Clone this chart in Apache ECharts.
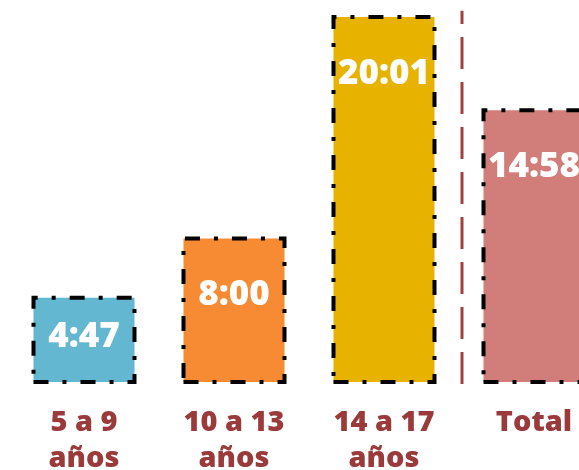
<!DOCTYPE html>
<html>
<head>
<meta charset="utf-8">
<script src="https://cdn.jsdelivr.net/npm/echarts@6/dist/echarts.min.js"></script>
<style>html,body{margin:0;padding:0;background:#fff;}#c{width:579px;height:470px;}</style>
</head>
<body>
<div id="c"></div>
<script>
var categories = ['5 a 9\naños', '10 a 13\naños', '14 a 17\naños', 'Total'];
var minutes = [287, 480, 1201, 898];
var colors = ['#63b7d1', '#f68b33', '#e8b200', '#d17d7a'];
var dividerX = [2.52, 2.52];
var dividerY = [0, 1215];

function fmt(m) {
  var h = Math.floor(m / 60), mm = m % 60;
  return h + ':' + (mm < 10 ? '0' : '') + mm;
}

var chart = echarts.init(document.getElementById('c'));
chart.setOption({
  animation: false,
  grid: { left: 9, right: -30, top: 0, bottom: 86, outerBoundsMode: 'none', containLabel: false },
  xAxis: [{
    type: 'category',
    data: categories,
    axisLine: { show: false },
    axisTick: { show: false },
    axisLabel: {
      color: '#9b3a3a',
      fontFamily: 'Open Sans',
      fontWeight: 800,
      fontSize: 29,
      lineHeight: 36,
      margin: 21,
      interval: 0
    }
  }, {
    type: 'value', min: -0.5, max: 3.5, show: false
  }],
  yAxis: { type: 'value', min: 0, max: 1250, show: false },
  series: [{
    type: 'bar',
    barWidth: 105,
    data: minutes.map(function (v, i) {
      var d = { value: v, itemStyle: { color: colors[i] } };
      if (i === 0) d.label = { distance: 24 };
      return d;
    }),
    itemStyle: {
      borderColor: '#000',
      borderWidth: 4,
      borderType: [15, 14, 4, 14]
    },
    label: {
      show: true,
      position: 'insideTop',
      distance: 41,
      color: '#fff',
      fontFamily: 'Open Sans',
      fontWeight: 800,
      fontSize: 35,
      formatter: function (p) { return fmt(p.value); }
    }
  }, {
    type: 'line',
    xAxisIndex: 1,
    symbol: 'none',
    data: [[dividerX[0], dividerY[0]], [dividerX[1], dividerY[1]]],
    lineStyle: { color: '#a04040', width: 3, type: [32, 13] },
    silent: true
  }]
});
</script>
</body>
</html>
